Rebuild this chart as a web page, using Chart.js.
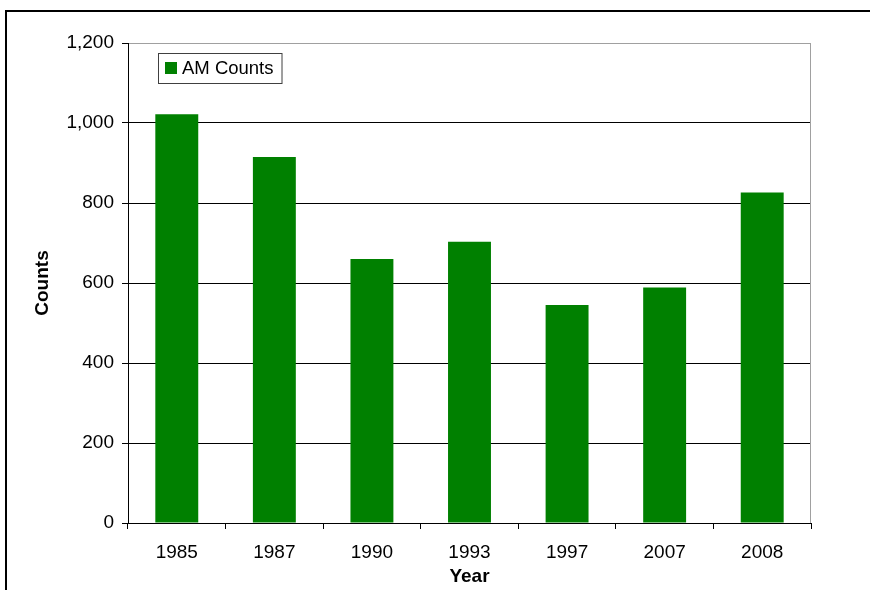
<!DOCTYPE html>
<html>
<head>
<meta charset="utf-8">
<script src="https://cdn.jsdelivr.net/npm/chart.js@4/dist/chart.umd.min.js"></script>
<style>
  html, body { margin: 0; padding: 0; background: #fff; }
  #wrap { position: relative; width: 870px; height: 590px; overflow: hidden; }
  #frame { position: absolute; left: 5px; top: 10px; width: 900px; height: 600px;
           border-left: 2px solid #000; border-top: 2px solid #000; }
  canvas { position: absolute; left: 0; top: 0; }
</style>
</head>
<body>
<div id="wrap">
  <div id="frame"></div>
  <canvas id="chart" width="870" height="590"></canvas>
</div>
<script>
const years = ['1985', '1987', '1990', '1993', '1997', '2007', '2008'];
const amCounts = [1022, 915, 660, 703, 545, 589, 826];
const seriesName = 'AM Counts';
const barColor = '#008000';
const font = 'Liberation Sans, Arial, sans-serif';

// legend box drawn inside the plot, top-left
const insideLegend = {
  id: 'insideLegend',
  afterDatasetsDraw(chart) {
    const c = chart.ctx;
    const ds = chart.data.datasets[0];
    const x = chart.chartArea.left + 30, y = chart.chartArea.top + 10;
    c.save();
    c.font = '18.5px ' + font;
    const w = c.measureText(ds.label).width + 32, h = 30;
    c.fillStyle = '#fff';
    c.fillRect(x, y, w, h);
    c.strokeStyle = '#404040';
    c.lineWidth = 1;
    c.strokeRect(x + 0.5, y + 0.5, w, h);
    c.fillStyle = ds.backgroundColor;
    c.fillRect(x + 7, y + 9, 12, 12);
    c.fillStyle = '#000';
    c.textBaseline = 'middle';
    c.fillText(ds.label, x + 24, y + 16);
    // grey right edge of the plot
    c.strokeStyle = '#a0a0a0';
    c.beginPath();
    c.moveTo(chart.chartArea.right - 0.5, chart.chartArea.top);
    c.lineTo(chart.chartArea.right - 0.5, chart.chartArea.bottom);
    c.stroke();
    c.restore();
  }
};

new Chart(document.getElementById('chart'), {
  type: 'bar',
  data: {
    labels: years,
    datasets: [{
      label: seriesName,
      data: amCounts,
      backgroundColor: barColor,
      borderWidth: 0,
      categoryPercentage: 1,
      barPercentage: 0.44
    }]
  },
  options: {
    responsive: false,
    animation: false,
    layout: { padding: { top: 43, right: 59, left: 1, bottom: 0 } },
    plugins: { legend: { display: false }, tooltip: { enabled: false } },
    scales: {
      x: {
        afterFit(scale) { scale.height = 67; },
        grid: { offset: true, drawOnChartArea: false, tickLength: 6, color: '#000' },
        border: { color: '#000', width: 1 },
        ticks: { color: '#000', padding: 12, font: { family: font, size: 19 } },
        title: { display: true, text: 'Year', color: '#000',
                 font: { family: font, size: 19, weight: 'bold' }, padding: { top: 0, bottom: 2 } }
      },
      y: {
        min: 0,
        max: 1200,
        afterFit(scale) { scale.width = 127; },
        grid: {
          tickLength: 6,
          color: (ctx) => ctx.tick && ctx.tick.value === 1200 ? '#a0a0a0' : '#000',
          tickColor: '#000'
        },
        border: { color: '#000', width: 1 },
        ticks: {
          stepSize: 200,
          padding: 8,
          color: '#000',
          font: { family: font, size: 19 },
          callback: (v) => v.toLocaleString('en-US')
        },
        title: { display: true, text: 'Counts', color: '#000',
                 font: { family: font, size: 19, weight: 'bold' }, padding: { top: 30, bottom: 0 } }
      }
    }
  },
  plugins: [insideLegend]
});
</script>
</body>
</html>
